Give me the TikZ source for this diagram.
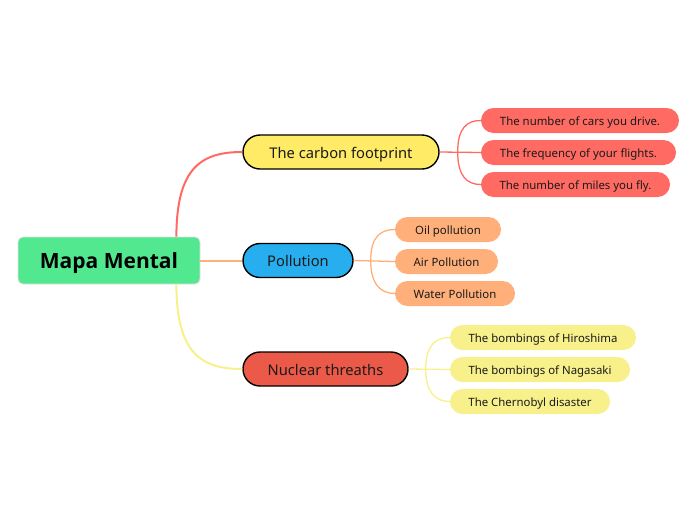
\documentclass[tikz,border=0pt]{standalone}
\usepackage{fontspec}
\setmainfont{Noto Sans}
\newfontfamily\rootfont{Open Sans}
\definecolor{rootc}{HTML}{52E88F}
\definecolor{carbc}{HTML}{FFEB66}
\definecolor{pollc}{HTML}{27AEEF}
\definecolor{nucc}{HTML}{EB5A48}
\definecolor{leafr}{HTML}{FF6B63}
\definecolor{leafo}{HTML}{FFB07A}
\definecolor{leafy}{HTML}{F8F08A}
\definecolor{txt}{HTML}{1A1A1A}
\tikzset{
  rootbox/.style={fill=rootc, draw=black!12, line width=0.8pt, rounded corners=5pt, minimum width=182pt, minimum height=47pt, inner sep=0pt, text height=15.5pt, text depth=0pt, font=\rootfont\fontsize{21}{24}\selectfont\bfseries, text=black},
  mainbox/.style={draw=black, line width=1.4pt, rounded corners=17pt, minimum height=34pt, inner sep=0pt, text height=12pt, text depth=0pt, font=\fontsize{14.7}{17}\selectfont, text=txt},
  leafbox/.style={rounded corners=12.5pt, minimum height=25pt, inner sep=0pt, text height=10pt, text depth=0pt, font=\fontsize{11.4}{13}\selectfont, text=txt},
  conn/.style={line width=2pt},
  sconn/.style={line width=1.3pt}
}
\begin{document}
\begin{tikzpicture}[x=1pt,y=-1pt]
\useasboundingbox (0,0) rectangle (696,520);
\node[rootbox] (root) at (109,260.5) {Mapa Mental};
\node[mainbox, fill=carbc, minimum width=196pt] (carb) at (341,152) {The carbon footprint};
\node[mainbox, fill=pollc, minimum width=110pt] (poll) at (298,260.5) {Pollution};
\node[mainbox, fill=nucc, minimum width=165pt] (nuc) at (325.5,369) {Nuclear threaths};

\node[leafbox, fill=leafr, minimum width=198pt] (c1) at (580,120.5) {The number of cars you drive.};
\node[leafbox, fill=leafr, minimum width=195pt] (c2) at (578.5,152.5) {The frequency of your flights.};
\node[leafbox, fill=leafr, minimum width=189pt] (c3) at (575.5,184.5) {The number of miles you fly.};

\node[leafbox, fill=leafo, minimum width=106pt] (p1) at (448,229.5) {Oil pollution};
\node[leafbox, fill=leafo, minimum width=103pt] (p2) at (446.5,261.5) {Air Pollution};
\node[leafbox, fill=leafo, minimum width=120pt] (p3) at (455,293.5) {Water Pollution};

\node[leafbox, fill=leafy, minimum width=186pt] (n1) at (543,337.5) {The bombings of Hiroshima};
\node[leafbox, fill=leafy, minimum width=180pt] (n2) at (540,369.5) {The bombings of Nagasaki};
\node[leafbox, fill=leafy, minimum width=160pt] (n3) at (530,401.5) {The Chernobyl disaster};

% root connectors
\draw[conn, draw=leafr] ([xshift=-24pt]root.north east) .. controls +(0,-70) and +(-40,0) .. (carb.west);
\draw[conn, draw=leafo] (root.east) -- (poll.west);
\draw[conn, draw=leafy] ([xshift=-24pt]root.south east) .. controls +(0,70) and +(-40,0) .. (nuc.west);

% carbon branch
\coordinate (cj) at ([xshift=18pt]carb.east);
\draw[sconn, draw=leafr] (carb.east) -- (c2.west);
\draw[sconn, draw=leafr] (cj) .. controls +(0,-24) and +(-14,0) .. (c1.west);
\draw[sconn, draw=leafr] (cj) .. controls +(0,24) and +(-14,0) .. (c3.west);

% pollution branch
\coordinate (pj) at ([xshift=17pt]poll.east);
\draw[sconn, draw=leafo] (poll.east) -- (p2.west);
\draw[sconn, draw=leafo] (pj) .. controls +(0,-24) and +(-14,0) .. (p1.west);
\draw[sconn, draw=leafo] (pj) .. controls +(0,24) and +(-14,0) .. (p3.west);

% nuclear branch
\coordinate (nj) at ([xshift=17pt]nuc.east);
\draw[sconn, draw=leafy] (nuc.east) -- (n2.west);
\draw[sconn, draw=leafy] (nj) .. controls +(0,-24) and +(-14,0) .. (n1.west);
\draw[sconn, draw=leafy] (nj) .. controls +(0,24) and +(-14,0) .. (n3.west);
\end{tikzpicture}
\end{document}
